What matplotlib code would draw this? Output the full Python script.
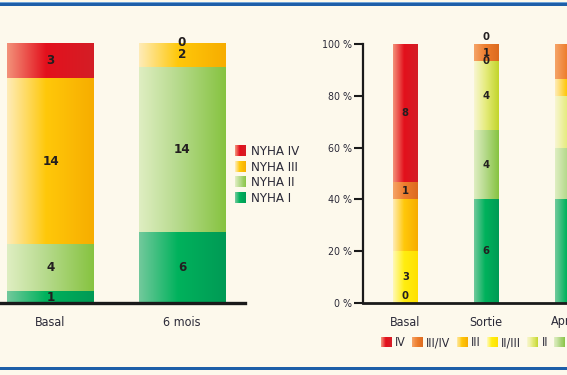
import numpy as np
import matplotlib
matplotlib.use('Agg')
import matplotlib.pyplot as plt
from matplotlib import font_manager
from matplotlib.colors import LinearSegmentedColormap
from matplotlib.legend_handler import HandlerBase
from matplotlib.patches import Rectangle

W, H = 567, 375
BG = '#FDF9EC'
INK = '#2B2A38'

names = {f.name for f in font_manager.fontManager.ttflist}
if 'Liberation Sans Narrow' in names:
    FONT = ['Liberation Sans Narrow', 'DejaVu Sans']
    STRETCH = 'normal'
else:
    FONT = ['DejaVu Sans']
    STRETCH = 'condensed'
plt.rcParams['font.family'] = FONT
plt.rcParams['font.stretch'] = STRETCH

# left chart: NYHA class, number of patients
left_groups = ['Basal', '6 mois']
nyha_names = ['NYHA I', 'NYHA II', 'NYHA III', 'NYHA IV']
nyha_1 = [1, 6]
nyha_2 = [4, 14]
nyha_3 = [14, 2]
nyha_4 = [3, 0]

# right chart: class counts, shown as % of the group
right_groups = ['Basal', 'Sortie', 'Après']
right_names = ['I', 'I/II', 'II', 'II/III', 'III', 'III/IV', 'IV']
cls_1 = [0, 6, 6]
cls_1_2 = [0, 4, 3]
cls_2 = [0, 4, 3]
cls_2_3 = [3, 0, 0]
cls_3 = [3, 0, 1]
cls_3_4 = [1, 1, 2]
cls_4 = [8, 0, 0]

# gradient colours (left edge, middle, right edge)
grad = {
    'IV': ('#F3927A', '#E3101C', '#D41E26'),
    'III/IV': ('#F5A468', '#EE7E2E', '#DC6A1E'),
    'III': ('#FEECB8', '#FFC80A', '#F7AD00'),
    'II/III': ('#FFF9B8', '#FFEE10', '#FFE000'),
    'II': ('#F8F6D2', '#E6EC80', '#C2D52A'),
    'I/II': ('#DFEEC2', '#B6DA8C', '#86C340'),
    'I': ('#72C99C', '#00B25C', '#009A55'),
}
nyha_col = {'NYHA I': 'I', 'NYHA II': 'I/II', 'NYHA III': 'III', 'NYHA IV': 'IV'}


def make_cmap(cols):
    return LinearSegmentedColormap.from_list('g', list(zip([0, 0.45, 1], cols)))


def fill_gradient(ax, bars, cols):
    cmap = make_cmap(cols)
    g = np.linspace(0, 1, 256).reshape(1, -1)
    for p in bars.patches:
        if p.get_height() <= 0:
            continue
        x, y, w, h = p.get_x(), p.get_y(), p.get_width(), p.get_height()
        ax.imshow(g, extent=(x, x + w, y, y + h), aspect='auto', cmap=cmap,
                  interpolation='bilinear', zorder=2)
        p.set_visible(False)


class GradientHandle(HandlerBase):
    def __init__(self, cols):
        super().__init__()
        self.cmap = make_cmap(cols)

    def create_artists(self, legend, orig_handle, xdescent, ydescent,
                       width, height, fontsize, trans):
        n = 20
        out = []
        for i in range(n):
            out.append(Rectangle((-xdescent + width * i / n, -ydescent),
                                 width / n * 1.1, height,
                                 facecolor=self.cmap((i + 0.5) / n),
                                 edgecolor='none', transform=trans))
        return out


fig = plt.figure(figsize=(W / 100, H / 100), dpi=100, facecolor=BG)

# ---- left chart ----
ax1 = fig.add_axes([0, 72 / H, 245 / W, 260 / H])
ax1.set_facecolor(BG)
xl = np.arange(len(left_groups))
bottom = np.zeros(len(xl))
for name, vals in zip(nyha_names, [nyha_1, nyha_2, nyha_3, nyha_4]):
    vals = np.array(vals, dtype=float)
    b = ax1.bar(xl, vals, 0.66, bottom=bottom)
    fill_gradient(ax1, b, grad[nyha_col[name]])
    for i, v in enumerate(vals):
        ax1.text(xl[i], bottom[i] + v / 2, f'{int(v)}', ha='center', va='center',
                 fontsize=9.5, fontweight='bold', color='#231F20', zorder=3)
    bottom += vals
ax1.set_xlim(-50.5 / 131.5, (245 - 50.5) / 131.5)
ax1.set_ylim(0, 22)
for s in ['top', 'right', 'left']:
    ax1.spines[s].set_visible(False)
ax1.spines['bottom'].set_linewidth(2.4)
ax1.spines['bottom'].set_color('#1A1A1A')
ax1.spines['bottom'].set_zorder(4)
ax1.set_yticks([])
ax1.set_xticks(xl, left_groups)
ax1.tick_params(axis='x', length=0, pad=9, labelsize=9, labelcolor=INK)

handles = [Rectangle((0, 0), 1, 1) for _ in nyha_names]
hmap = {h: GradientHandle(grad[nyha_col[n]]) for h, n in zip(handles, nyha_names)}
leg1 = fig.legend(handles[::-1], nyha_names[::-1], handler_map=hmap,
                  loc='upper left', bbox_to_anchor=(235 / W, (H - 145) / H),
                  frameon=False, borderpad=0, borderaxespad=0,
                  handlelength=0.85, handleheight=0.9, handletextpad=0.35,
                  labelspacing=0.2, prop={'size': 9.5, 'stretch': STRETCH})
for t in leg1.get_texts():
    t.set_color(INK)

# ---- right chart ----
ax2 = fig.add_axes([363 / W, 72 / H, (W - 363) / W, 259 / H])
ax2.set_facecolor(BG)
xr = np.arange(len(right_groups))
series = [cls_1, cls_1_2, cls_2, cls_2_3, cls_3, cls_3_4, cls_4]
totals = np.sum(np.array(series, dtype=float), axis=0)
# labels that the source does not show (Après column is cut off)
hidden = {(0, 'III')} | {(2, n) for n in right_names}
bottom = np.zeros(len(xr))
placed = set()
for name, vals in zip(right_names, series):
    vals = np.array(vals, dtype=float)
    pct = vals / totals * 100
    b = ax2.bar(xr, pct, 0.30, bottom=bottom)
    fill_gradient(ax2, b, grad[name])
    for i, v in enumerate(vals):
        if (i, name) in hidden:
            continue
        y = bottom[i] + pct[i] / 2
        va = 'center'
        if v == 0:
            key = (i, round(bottom[i], 3))
            if key in placed:
                continue
            placed.add(key)
            if bottom[i] <= 0.01 or bottom[i] >= 99.99:
                va = 'bottom'
                y = bottom[i] + 0.8
        ax2.text(xr[i], y, f'{int(v)}', ha='center', va=va, fontsize=8,
                 fontweight='bold', color='#231F20', zorder=3, clip_on=False)
    bottom += pct
ax2.set_xlim(-43.5 / 83, (W - 406.5) / 83)
ax2.set_ylim(0, 100)
for s in ['top', 'right']:
    ax2.spines[s].set_visible(False)
ax2.spines['left'].set_linewidth(1.6)
ax2.spines['bottom'].set_linewidth(2.0)
for s in ['left', 'bottom']:
    ax2.spines[s].set_color('#1A1A1A')
    ax2.spines[s].set_zorder(4)
yt = np.arange(0, 101, 20)
ax2.set_yticks(yt, [f'{v} %' for v in yt])
ax2.set_xticks(xr, right_groups)
ax2.tick_params(axis='y', length=6.5, width=1.5, pad=1.5, labelsize=7.6,
                labelcolor=INK, color='#1A1A1A')
ax2.tick_params(axis='x', length=0, pad=9, labelsize=9, labelcolor=INK)

handles2 = [Rectangle((0, 0), 1, 1) for _ in right_names]
hmap2 = {h: GradientHandle(grad[n]) for h, n in zip(handles2, right_names)}
leg2 = fig.legend(handles2[::-1], right_names[::-1], handler_map=hmap2,
                  loc='upper left', bbox_to_anchor=(381 / W, (H - 336) / H),
                  ncol=len(right_names), frameon=False, borderpad=0,
                  borderaxespad=0, handlelength=0.9, handleheight=0.9,
                  handletextpad=0.25, columnspacing=0.52,
                  prop={'size': 8.8, 'stretch': STRETCH})
for t in leg2.get_texts():
    t.set_color(INK)

# blue frame lines
fig.add_artist(Rectangle((0, (H - 3) / H), 1, 1 / H, transform=fig.transFigure,
                         facecolor='#6FA3D8', edgecolor='none'))
fig.add_artist(Rectangle((0, (H - 6) / H), 1, 3 / H, transform=fig.transFigure,
                         facecolor='#1E5FA8', edgecolor='none'))
fig.add_artist(Rectangle((0, 5 / H), 1, 3 / H, transform=fig.transFigure,
                         facecolor='#1E5FA8', edgecolor='none'))

fig.savefig('out.png', dpi=100, facecolor=BG)
